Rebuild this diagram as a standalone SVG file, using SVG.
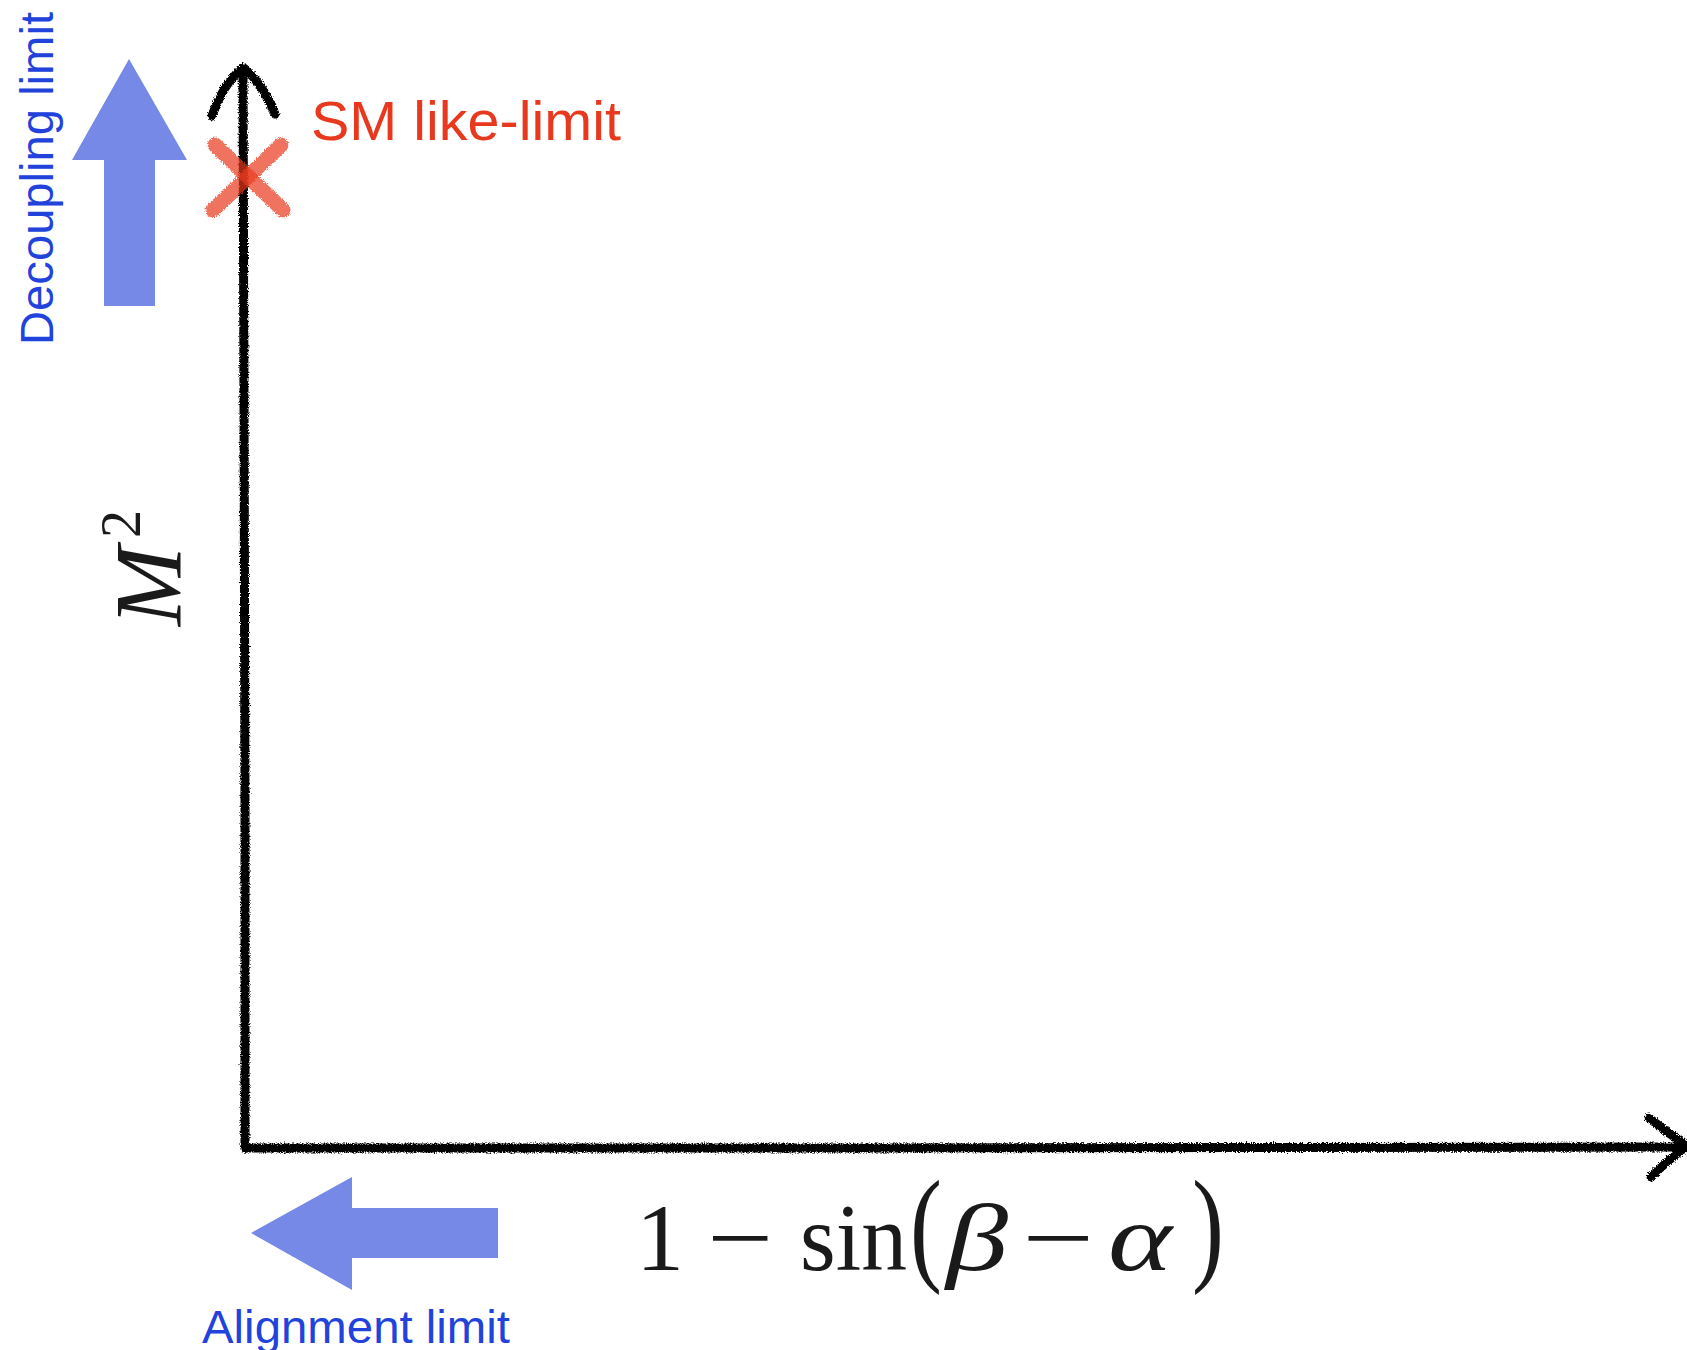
<svg xmlns="http://www.w3.org/2000/svg" width="1687" height="1350" viewBox="0 0 1687 1350">
  <style>
    .axis { fill: none; stroke: #000; stroke-width: 9; stroke-linecap: round; stroke-linejoin: round; }
    .blue-arrow { fill: #7789E6; }
    .blue-label { fill: #2143DC; font-family: "Liberation Sans", Arial, sans-serif; }
    .red-label { fill: #E8391E; font-family: "Liberation Sans", Arial, sans-serif; }
    .math { fill: #1a1a1a; font-family: "Liberation Serif", "DejaVu Serif", serif; font-size: 96px; }
    .mi { font-style: italic; }
    .cross { stroke: #E8391E; stroke-width: 15; stroke-linecap: round; opacity: 0.7; fill: none; }
  </style>
  <defs>
    <filter id="rough" filterUnits="userSpaceOnUse" x="0" y="0" width="1687" height="1350">
      <feTurbulence type="fractalNoise" baseFrequency="0.9" numOctaves="2" seed="3" result="noise"/>
      <feDisplacementMap in="SourceGraphic" in2="noise" scale="5" xChannelSelector="R" yChannelSelector="G"/>
    </filter>
  </defs>
  <rect width="1687" height="1350" fill="#fff"/>

  <g id="connectors">
    <g id="y-axis" filter="url(#rough)">
      <path class="axis" d="M243,74 L244,400 L245,800 L245,1148"/>
      <path class="axis" d="M212,116 Q224,82 243,68 Q262,82 275,114"/>
    </g>
    <g id="x-axis" filter="url(#rough)">
      <path class="axis" d="M245,1148 L900,1148 L1686,1147"/>
      <path class="axis" d="M1649,1118 Q1668,1133 1687,1146 Q1668,1160 1651,1177"/>
    </g>
  </g>

  <g id="sm-limit-marker">
    <g filter="url(#rough)">
      <path class="cross" d="M215,145 L283,210"/>
      <path class="cross" d="M281,145 L213,210"/>
    </g>
    <text class="red-label" x="311" y="140" font-size="56" textLength="310" lengthAdjust="spacingAndGlyphs">SM like-limit</text>
  </g>

  <g id="decoupling">
    <polygon class="blue-arrow" points="129,59 187,160 155,160 155,306 104,306 104,160 72,160"/>
    <text class="blue-label" transform="translate(53,345) rotate(-90)" font-size="47" textLength="333" lengthAdjust="spacingAndGlyphs">Decoupling limit</text>
  </g>

  <g id="alignment">
    <polygon class="blue-arrow" points="251,1233 352,1177 352,1208 498,1208 498,1258 352,1258 352,1290"/>
    <text class="blue-label" x="202" y="1343" font-size="46" textLength="308" lengthAdjust="spacingAndGlyphs">Alignment limit</text>
  </g>

  <g id="y-label">
    <text class="math" transform="translate(181,626) rotate(-90)" font-size="112"><tspan class="mi">M</tspan><tspan dx="8" dy="-41" font-size="56">2</tspan></text>
  </g>

  <g id="x-label">
    <text class="math" x="636" y="1270">1</text>
    <text class="math" x="707" y="1270" textLength="66" lengthAdjust="spacingAndGlyphs">−</text>
    <text class="math" x="800" y="1270" textLength="107" lengthAdjust="spacingAndGlyphs">sin</text>
    <text class="math" transform="translate(910,1268) scale(1,1.32)">(</text>
    <text class="math mi" x="946" y="1270" font-size="110" textLength="62" lengthAdjust="spacingAndGlyphs">β</text>
    <text class="math" x="1022" y="1270" textLength="72" lengthAdjust="spacingAndGlyphs">−</text>
    <text class="math mi" x="1108" y="1270" font-size="110" textLength="64" lengthAdjust="spacingAndGlyphs">α</text>
    <text class="math" transform="translate(1192,1268) scale(1,1.32)">)</text>
  </g>
</svg>
